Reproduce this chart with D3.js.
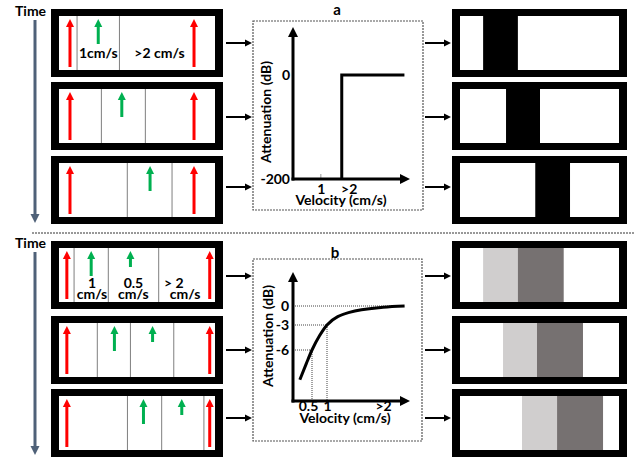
<!DOCTYPE html>
<html>
<head>
<meta charset="utf-8">
<script src="https://cdn.jsdelivr.net/npm/d3@7"></script>
<style>
  body { margin: 0; background: #fff; }
  svg text { font-family: Lato, "Open Sans", sans-serif; font-weight: 700; fill: #000; }
</style>
</head>
<body>
<svg id="chart" width="644" height="460"></svg>
<script>
// DATA
// positions along the vessel are in track units, 0 (left) .. 100 (right)

// panel a: hard cut-off filter
const aRedPos = [7, 86];                                  // >2 cm/s scatterers
const aGreenPos = [25, 40, 58];                           // 1 cm/s scatterer, per frame
const aDividers = [[11.5, 38.5], [27, 55], [43.5, 72]];   // 1 cm/s region edges
const aLabels = ["1cm/s", ">2 cm/s"];
const aLabelPos = [25, 64];
const aBands = [[14, 36], [28.5, 50], [47, 69]];          // black (removed) band
const stepVel = [1.75, 1.75, 4.0];
const stepDb = [-200, 0, 0];
const aXTicks = [1, 2];
const aXTickLabels = ["1", ">2"];
const aYTicks = [0, -200];

// panel b: soft roll-off filter
const bRedPos = [5, 96];
const bGreenVel = [1, 0.5];
const bGreenPos = [[20.5, 45.5], [35.3, 59.6], [53.8, 78.2]];
const bDividers = [[9.6, 31.4, 63.5], [24.4, 45.5, 73.1], [43.6, 65.4, 92.3]];
const bLabelTop = ["1", "0.5", "> 2"];
const bLabelTopPos = [21, 47.4, 73.2];
const bLabelBottom = ["cm/s", "cm/s", "cm/s"];
const bLabelBottomPos = [21, 47.4, 80.3];
const bBands = [[14, 36, 65], [26.6, 48.1, 77.2], [38.6, 60.8, 89.9]]; // light start, dark start, dark end
const curveVel = [0.18, 0.35, 0.5, 0.75, 1, 1.4, 2, 2.8];
const curveDb = [-9.5, -7.6, -6, -4.3, -3, -1, -0.2, 0];
const guideVel = [0.5, 1];
const guideDb = [-6, -3];
const bXTicks = [0.5, 1, 2];
const bXTickLabels = ["0.5", "1", ">2"];
const bYTicks = [0, -3, -6];

const redVel = 2;

// LAYOUT

const svg = d3.select("#chart");
const FS = 14;

const rowsA = [9, 82, 156];
const rowsB = [241, 316, 389];
const connA = [43, 117, 187];
const connB = [276, 350, 418];
const ROW_H = 68;

const leftTrack = d3.scaleLinear().domain([0, 100]).range([59, 216]);
const rightTrack = d3.scaleLinear().domain([0, 100]).range([461, 619]);
const arrowLen = d3.scaleLinear().domain([0, 0.5, 1, 2]).range([0, 16, 25, 48]);

// HELPERS

function arrow(g, x1, y1, x2, y2, color, w, headW, headL) {
  const len = Math.hypot(x2 - x1, y2 - y1);
  const ux = (x2 - x1) / len, uy = (y2 - y1) / len;
  const bx = x2 - ux * headL, by = y2 - uy * headL;
  g.append("line")
    .attr("x1", x1).attr("y1", y1).attr("x2", bx + ux).attr("y2", by + uy)
    .attr("stroke", color).attr("stroke-width", w);
  g.append("path")
    .attr("d", `M${x2},${y2}L${bx - uy * headW / 2},${by + ux * headW / 2}L${bx + uy * headW / 2},${by - ux * headW / 2}Z`)
    .attr("fill", color);
}

function frame(x, y, w, h) {
  svg.append("rect").attr("x", x).attr("y", y).attr("width", w).attr("height", h).attr("fill", "#000");
  return svg.append("rect").attr("x", x + 8).attr("y", y + 7).attr("width", w - 16).attr("height", h - 14).attr("fill", "#fff");
}

function timeArrow(y0, y1, labelY) {
  svg.append("text").attr("x", 15).attr("y", labelY).attr("font-size", FS).text("Time");
  arrow(svg, 35, y0, 35, y1, "#4f6178", 3, 9, 9);
}

// vessel frame with scatterers (left column)
function vesselFrame(y, dividers, arrows) {
  frame(51, y, 172, ROW_H);
  const top = y + 7, bot = y + ROW_H - 7;
  dividers.forEach((d) => {
    svg.append("line")
      .attr("x1", leftTrack(d)).attr("x2", leftTrack(d))
      .attr("y1", top).attr("y2", bot)
      .attr("stroke", "#7f7f7f").attr("stroke-width", 1);
  });
  arrows.forEach((a) => {
    const x = leftTrack(a.pos);
    const tip = top + 3;
    arrow(svg, x, tip + arrowLen(a.vel), x, tip, a.color, 3, 8, 8);
  });
}

// filtered output (right column)
function outputFrame(y, bands) {
  frame(452, y, 175, ROW_H);
  const top = y + 7, h = ROW_H - 14;
  bands.forEach((b) => {
    svg.append("rect")
      .attr("x", rightTrack(b.from)).attr("y", top)
      .attr("width", rightTrack(b.to) - rightTrack(b.from)).attr("height", h)
      .attr("fill", b.color);
  });
}

function connectors(ys) {
  ys.forEach((y) => {
    arrow(svg, 226, y, 252, y, "#000", 2, 7, 7);
    arrow(svg, 425, y, 451, y, "#000", 2, 7, 7);
  });
}

function dottedBox(x, y, w, h) {
  svg.append("rect").attr("x", x).attr("y", y).attr("width", w).attr("height", h)
    .attr("fill", "none").attr("stroke", "#555").attr("stroke-width", 1.2)
    .attr("stroke-dasharray", "2,1");
}

function axisArrows(x0, y0, xEnd, yEnd) {
  arrow(svg, x0, y0 + 1.5, x0, yEnd, "#000", 3, 10, 10);
  arrow(svg, x0 - 1.5, y0, xEnd, y0, "#000", 3, 10, 10);
}

function styleAxis(g) {
  g.select(".domain").remove();
  g.selectAll("text").attr("font-size", FS).attr("font-family", "Lato, sans-serif").attr("font-weight", 700).attr("fill", "#000");
}

const plainNum = (d) => String(d); // keep ASCII hyphen like the original

// PANEL A

timeArrow(20, 223, 16);

rowsA.forEach((y, i) => {
  const arrows = aRedPos.map((p) => ({ pos: p, vel: redVel, color: "#ff0000" }));
  arrows.push({ pos: aGreenPos[i], vel: 1, color: "#00b050" });
  vesselFrame(y, aDividers[i], arrows);
});
aLabels.forEach((t, i) => {
  svg.append("text").attr("x", leftTrack(aLabelPos[i])).attr("y", 58)
    .attr("text-anchor", "middle").attr("font-size", FS).text(t);
});

connectors(connA);

dottedBox(253, 21, 170, 189);
svg.append("text").attr("x", 337).attr("y", 15).attr("text-anchor", "middle").attr("font-size", 15).text("a");

const xA = d3.scaleLinear().domain([0, 4.2]).range([293, 410]);
const yA = d3.scaleLinear().domain([-200, 0]).range([179, 75]);

svg.append("g").attr("transform", `translate(0,${yA(-200)})`)
  .call(d3.axisBottom(xA).tickValues(aXTicks).tickSize(0).tickPadding(5)
    .tickFormat((d, i) => aXTickLabels[i]))
  .call(styleAxis);
svg.append("g").attr("transform", `translate(${xA(0)},0)`)
  .call(d3.axisLeft(yA).tickValues(aYTicks).tickSize(0).tickPadding(3).tickFormat(plainNum))
  .call(styleAxis);
svg.append("line").attr("x1", xA(1)).attr("x2", xA(1)).attr("y1", yA(-200) - 5).attr("y2", yA(-200))
  .attr("stroke", "#999").attr("stroke-width", 1);

svg.append("path")
  .datum(stepVel.map((v, i) => [v, stepDb[i]]))
  .attr("d", d3.line().x((d) => xA(d[0])).y((d) => yA(d[1])))
  .attr("fill", "none").attr("stroke", "#000").attr("stroke-width", 3);

axisArrows(xA(0), yA(-200), 410, 27);

svg.append("text").attr("x", 341).attr("y", 205).attr("text-anchor", "middle").attr("font-size", FS).text("Velocity (cm/s)");
svg.append("text").attr("transform", "translate(271,112) rotate(-90)").attr("text-anchor", "middle")
  .attr("font-size", FS).text("Attenuation (dB)");

rowsA.forEach((y, i) => {
  outputFrame(y, [{ from: aBands[i][0], to: aBands[i][1], color: "#000" }]);
});

// SEPARATOR

svg.append("line").attr("x1", 32).attr("x2", 635).attr("y1", 233).attr("y2", 233)
  .attr("stroke", "#333").attr("stroke-width", 1).attr("stroke-dasharray", "2,1");

// PANEL B

timeArrow(252, 455, 248);

rowsB.forEach((y, i) => {
  const arrows = bRedPos.map((p) => ({ pos: p, vel: redVel, color: "#ff0000" }));
  bGreenPos[i].forEach((p, j) => arrows.push({ pos: p, vel: bGreenVel[j], color: "#00b050" }));
  vesselFrame(y, bDividers[i], arrows);
});
bLabelTop.forEach((t, i) => {
  svg.append("text").attr("x", leftTrack(bLabelTopPos[i])).attr("y", 288)
    .attr("text-anchor", "middle").attr("font-size", FS).text(t);
});
bLabelBottom.forEach((t, i) => {
  svg.append("text").attr("x", leftTrack(bLabelBottomPos[i])).attr("y", 299)
    .attr("text-anchor", "middle").attr("font-size", FS).text(t);
});

connectors(connB);

dottedBox(253, 259, 169, 182);
svg.append("text").attr("x", 335).attr("y", 258).attr("text-anchor", "middle").attr("font-size", 15).text("b");

const xB = d3.scaleLinear().domain([0, 0.5, 1, 2, 3]).range([293, 312, 327, 383, 410]);
const yB = d3.scaleLinear().domain([-12, -6, -3, 0]).range([401, 350, 325, 306]);

// dotted guides
svg.append("line").attr("x1", xB(0)).attr("x2", xB(2.8)).attr("y1", yB(0)).attr("y2", yB(0))
  .attr("stroke", "#444").attr("stroke-width", 1).attr("stroke-dasharray", "1,1");
guideVel.forEach((v, i) => {
  svg.append("line").attr("x1", xB(0)).attr("x2", xB(v)).attr("y1", yB(guideDb[i])).attr("y2", yB(guideDb[i]))
    .attr("stroke", "#444").attr("stroke-width", 1).attr("stroke-dasharray", "1,1");
  svg.append("line").attr("x1", xB(v)).attr("x2", xB(v)).attr("y1", yB(guideDb[i])).attr("y2", yB(-12))
    .attr("stroke", "#444").attr("stroke-width", 1).attr("stroke-dasharray", "1,1");
});

const bXAxis = svg.append("g").attr("transform", `translate(0,${yB(-12)})`)
  .call(d3.axisBottom(xB).tickValues(bXTicks).tickSize(0).tickPadding(0)
    .tickFormat((d, i) => bXTickLabels[i]))
  .call(styleAxis);
bXAxis.selectAll("text").filter((d) => d === 0.5).attr("dx", -4);
svg.append("g").attr("transform", `translate(${xB(0)},0)`)
  .call(d3.axisLeft(yB).tickValues(bYTicks).tickSize(0).tickPadding(4).tickFormat(plainNum))
  .call(styleAxis);

svg.append("path")
  .datum(curveVel.map((v, i) => [v, curveDb[i]]))
  .attr("d", d3.line().x((d) => xB(d[0])).y((d) => yB(d[1])).curve(d3.curveMonotoneX))
  .attr("fill", "none").attr("stroke", "#000").attr("stroke-width", 3);

axisArrows(xB(0), yB(-12), 410, 272);

svg.append("text").attr("x", 345).attr("y", 423).attr("text-anchor", "middle").attr("font-size", FS).text("Velocity (cm/s)");
svg.append("text").attr("transform", "translate(273,336) rotate(-90)").attr("text-anchor", "middle")
  .attr("font-size", FS).text("Attenuation (dB)");

rowsB.forEach((y, i) => {
  outputFrame(y, [
    { from: bBands[i][0], to: bBands[i][1], color: "#d0cece" },
    { from: bBands[i][1], to: bBands[i][2], color: "#767171" },
  ]);
});
</script>
</body>
</html>
